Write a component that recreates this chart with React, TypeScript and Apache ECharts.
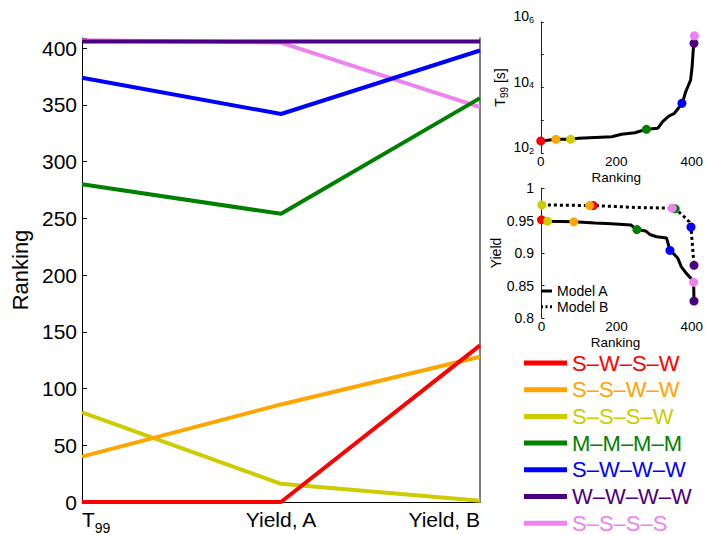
import React, { useEffect, useRef } from "react";
import * as echarts from "echarts";

const FONT = "'Liberation Sans', Arial, Helvetica, sans-serif";

// Schemes (legend order) and colours
const schemes = ["S–W–S–W", "S–S–W–W", "S–S–S–W", "M–M–M–M", "S–W–W–W", "W–W–W–W", "S–S–S–S"];
const colors = ["#ff0000", "#ffa500", "#cccc00", "#008000", "#0000ff", "#4b0082", "#ee82ee"];
const criteria = ["T99", "Yield, A", "Yield, B"];

// Rankings per criterion (per scheme)
const rankT99 = [0, 40, 79, 280, 374, 406, 407];
const rankYieldA = [0, 86, 16, 254, 342, 406, 405];
const rankYieldB = [138, 128, 1, 356, 398, 406, 348];

// Values per scheme
const t99Value = [234, 262, 262, 529, 3300, 224000, 380000];
const yieldAValue = [0.951, 0.948, 0.949, 0.936, 0.904, 0.826, 0.855];
const yieldBValue = [0.973, 0.973, 0.974, 0.968, 0.94, 0.881, 0.969];

// Sorted T99 curve
const t99CurveRank = [0, 40, 79, 100, 188, 214, 249, 281, 310, 323, 340, 354, 375, 384, 397, 401, 404, 406, 407];
const t99CurveValue = [234, 262, 262, 280, 314, 372, 417, 529, 566, 904, 1350, 1630, 3300, 7400, 17000, 43000, 141000, 224000, 380000];

// Sorted yield curves
const modelARank = [0, 16, 86, 142, 186, 238, 254, 277, 290, 307, 333, 342, 355, 363, 372, 385, 398, 405, 406];
const modelAYield = [0.951, 0.949, 0.948, 0.946, 0.945, 0.943, 0.936, 0.934, 0.928, 0.925, 0.923, 0.904, 0.897, 0.892, 0.879, 0.869, 0.861, 0.855, 0.826];
const modelBRank = [1, 128, 138, 254, 348, 356, 376, 393, 398, 406];
const modelBYield = [0.974, 0.973, 0.973, 0.97, 0.969, 0.968, 0.958, 0.948, 0.94, 0.881];

const rankTicks = [0, 50, 100, 150, 200, 250, 300, 350, 400];
const subRankTicks = [0, 200, 400];

export default function App() {
  const ref = useRef<HTMLDivElement>(null);
  useEffect(() => {
    if (!ref.current) return;
    const chart = echarts.init(ref.current, null, { renderer: "svg" });
    const order = [6, 5, 4, 3, 2, 1, 0];
    const mainSeries = order.map((i) => ({
      type: "line",
      name: schemes[i],
      xAxisIndex: 0,
      yAxisIndex: 0,
      data: [rankT99[i], rankYieldA[i], rankYieldB[i]],
      symbol: "none",
      lineStyle: { width: 4, color: colors[i] },
      itemStyle: { color: colors[i] },
      z: 2,
    }));
    const markerSeries: any[] = [];
    schemes.forEach((s, i) => {
      markerSeries.push({
        type: "scatter",
        name: s + " T99 marker",
        xAxisIndex: 1,
        yAxisIndex: 2,
        data: [[rankT99[i], t99Value[i]]],
        symbolSize: 9,
        itemStyle: { color: colors[i], opacity: 1 },
        z: 5,
      });
      markerSeries.push({
        type: "scatter",
        name: s + " yield marker",
        xAxisIndex: 2,
        yAxisIndex: 3,
        data: [
          [rankYieldA[i], yieldAValue[i]],
          [rankYieldB[i], yieldBValue[i]],
        ],
        symbolSize: 9,
        itemStyle: { color: colors[i], opacity: 1 },
        z: 5,
      });
    });

    const subLabel = { fontSize: 14, color: "#000", fontFamily: FONT };
    const subXLabel = { fontSize: 13.5, lineHeight: 13, color: "#000", fontFamily: FONT };
    const subXName = { fontSize: 13.5, lineHeight: 13, color: "#000", verticalAlign: "top" };

    const option: any = {
      animation: false,
      textStyle: { fontFamily: FONT },
      grid: [
        { left: 82, top: 38, width: 398, height: 468 },
        { left: 537, top: 22, width: 160, height: 131 },
        { left: 537, top: 188, width: 162, height: 130 },
      ],
      xAxis: [
        {
          gridIndex: 0,
          type: "category",
          boundaryGap: false,
          data: criteria.map((c, i) => ({
            value: c,
            textStyle: { align: i === 0 ? "left" : i === 2 ? "right" : "center" },
          })),
          axisLine: { lineStyle: { color: "#000", width: 1 } },
          axisTick: { show: false },
          axisLabel: {
            fontSize: 21,
            color: "#000",
            margin: 7,
            formatter: (v: string) => (v === "T99" ? "{t|T}{s|99}" : v),
            rich: {
              t: { fontSize: 21, lineHeight: 21, verticalAlign: "top", color: "#000" },
              s: { fontSize: 14, lineHeight: 14, verticalAlign: "top", padding: [12, 0, 0, 0], color: "#000" },
            },
          },
        },
        {
          gridIndex: 1,
          type: "value",
          min: -10,
          max: 410,
          axisLine: { show: false },
          axisTick: { show: false },
          splitLine: { show: false },
          axisLabel: {
            ...subXLabel,
            margin: 2,
            formatter: (v: number) => (subRankTicks.includes(v) ? String(v) : ""),
          },
          name: "Ranking",
          nameLocation: "middle",
          nameGap: 18,
          nameMoveOverlap: false,
          nameTextStyle: subXName,
        },
        {
          gridIndex: 2,
          type: "value",
          min: -12,
          max: 406,
          axisLine: { show: false },
          axisTick: { show: false },
          splitLine: { show: false },
          axisLabel: {
            ...subXLabel,
            margin: 2,
            formatter: (v: number) => (subRankTicks.includes(v) ? String(v) : ""),
          },
          name: "Ranking",
          nameLocation: "middle",
          nameGap: 18,
          nameMoveOverlap: false,
          nameTextStyle: subXName,
        },
      ],
      yAxis: [
        {
          gridIndex: 0,
          type: "value",
          min: 0,
          max: 409,
          interval: 50,
          axisLine: { show: true, lineStyle: { color: "#000", width: 1 } },
          axisTick: { show: true, inside: true, length: 5, lineStyle: { color: "#000" } },
          splitLine: { show: false },
          axisLabel: {
            fontSize: 21,
            color: "#000",
            margin: 5,
            formatter: (v: number) => (rankTicks.includes(v) ? String(v) : ""),
          },
          name: "Ranking",
          nameLocation: "middle",
          nameGap: 48,
          nameRotate: 90,
          nameTextStyle: { fontSize: 22, color: "#000" },
        },
        {
          gridIndex: 0,
          type: "value",
          position: "right",
          min: 0,
          max: 409,
          axisLine: { show: true, lineStyle: { color: "#555", width: 1.5 } },
          axisTick: { show: false },
          axisLabel: { show: false },
          splitLine: { show: false },
        },
        {
          gridIndex: 1,
          type: "log",
          logBase: 10,
          min: 100,
          max: 1000000,
          axisLine: { show: true, lineStyle: { color: "#222", width: 1 } },
          axisTick: { show: true, inside: true, length: 3, lineStyle: { color: "#222" } },
          splitLine: { show: false },
          axisLabel: {
            margin: 3,
            formatter: (v: number) => {
              const e = Math.round(Math.log10(v));
              return e % 2 === 0 ? `{b|10}{s|${e}}` : "";
            },
            rich: {
              b: { fontSize: 14, lineHeight: 14, verticalAlign: "bottom", padding: [6, 0, 6, 0], color: "#000" },
              s: { fontSize: 9, lineHeight: 9, verticalAlign: "top", color: "#000" },
            },
          },
          name: "{a|T}{s|99}{a| [s]}",
          nameLocation: "middle",
          nameGap: 30,
          nameRotate: 90,
          nameTextStyle: {
            rich: {
              a: { fontSize: 14, lineHeight: 14, verticalAlign: "top", color: "#000" },
              s: { fontSize: 10, lineHeight: 10, verticalAlign: "top", padding: [7, 0, 0, 0], color: "#000" },
            },
          },
        },
        {
          gridIndex: 2,
          type: "value",
          min: 0.8,
          max: 1,
          interval: 0.05,
          axisLine: { show: true, lineStyle: { color: "#222", width: 1 } },
          axisTick: { show: true, inside: true, length: 3, lineStyle: { color: "#222" } },
          splitLine: { show: false },
          axisLabel: { ...subLabel, margin: 3 },
          name: "Yield",
          nameLocation: "middle",
          nameGap: 30,
          nameRotate: 90,
          nameTextStyle: { fontSize: 14, color: "#000" },
        },
      ],
      legend: [
        {
          orient: "vertical",
          left: 524,
          top: 352,
          height: 200,
          padding: 0,
          itemWidth: 43,
          itemHeight: 5,
          itemGap: 4.7,
          icon: "rect",
          selectedMode: false,
          data: schemes.map((s, i) => ({ name: s, textStyle: { color: colors[i] } })),
          textStyle: { fontSize: 22, lineHeight: 22, fontFamily: FONT },
        },
        {
          orient: "vertical",
          left: 541,
          top: 284,
          padding: 0,
          itemWidth: 11,
          itemHeight: 3,
          itemGap: 1.7,
          selectedMode: false,
          data: [
            { name: "Model A", icon: "path://M0,0h11v3h-11z", itemStyle: { color: "#000" } },
            {
              name: "Model B",
              icon: "path://M0,0h2v3h-2z M4.5,0h2v3h-2z M9,0h2v3h-2z",
              itemStyle: { color: "#000" },
            },
          ],
          textStyle: { fontSize: 14, lineHeight: 13, color: "#000", fontFamily: FONT },
        },
      ],
      series: [
        ...mainSeries,
        {
          type: "line",
          name: "T99 sorted",
          xAxisIndex: 1,
          yAxisIndex: 2,
          data: t99CurveRank.map((r, k) => [r, t99CurveValue[k]]),
          symbol: "none",
          lineStyle: { color: "#000", width: 3 },
          itemStyle: { color: "#000" },
          z: 3,
        },
        {
          type: "line",
          name: "Model A",
          xAxisIndex: 2,
          yAxisIndex: 3,
          data: modelARank.map((r, k) => [r, modelAYield[k]]),
          symbol: "none",
          lineStyle: { color: "#000", width: 3 },
          itemStyle: { color: "#000" },
          z: 3,
        },
        {
          type: "line",
          name: "Model B",
          xAxisIndex: 2,
          yAxisIndex: 3,
          data: modelBRank.map((r, k) => [r, modelBYield[k]]),
          symbol: "none",
          lineStyle: { color: "#000", width: 3, type: "dotted" },
          itemStyle: { color: "#000" },
          z: 3,
        },
        ...markerSeries,
      ],
    };
    chart.setOption(option);
    return () => chart.dispose();
  }, []);
  return (
    <div
      ref={ref}
      style={{ position: "absolute", left: 0, top: 0, width: 706, height: 535, background: "#fff" }}
    />
  );
}
